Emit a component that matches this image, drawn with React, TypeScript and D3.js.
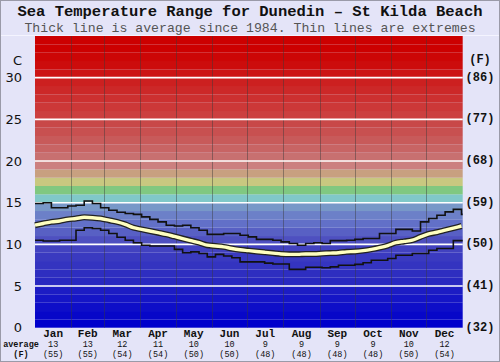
import React from "react";
import * as d3 from "d3";

const W = 500;
const H = 362;

const months = ["Jan", "Feb", "Mar", "Apr", "May", "Jun", "Jul", "Aug", "Sep", "Oct", "Nov", "Dec"];
const monthStartDays = [0, 31, 59, 90, 120, 151, 181, 212, 243, 273, 304, 334, 365];
const monthAvgC = [13, 13, 12, 11, 10, 10, 9, 9, 9, 9, 10, 12];
const monthAvgF = [55, 55, 54, 54, 50, 50, 48, 48, 48, 48, 50, 54];

const cTicks = [0, 5, 10, 15, 20, 25, 30];
const fTicks = [32, 41, 50, 59, 68, 77, 86];

// weekly samples, day = 7 * index
const maxTemp = [
  14.9, 15.0, 14.4, 14.4, 14.6, 14.7, 15.2, 14.9, 14.4, 14.1, 13.85, 13.7, 13.6, 13.3,
  13.0, 12.7, 12.3, 12.2, 12.3, 12.0, 11.7, 11.2, 11.2, 11.3, 11.3, 11.1, 10.9, 10.6,
  10.6, 10.5, 10.3, 10.1, 9.9, 10.1, 10.2, 10.1, 10.45, 10.45, 10.5, 10.6, 10.7, 10.7,
  11.3, 11.3, 11.8, 11.8, 11.6, 12.7, 13.1, 13.5, 13.9, 14.2, 13.6,
];
const minTemp = [
  10.5, 10.4, 10.4, 10.5, 10.5, 11.7, 12.0, 11.9, 11.7, 11.3, 10.85, 10.5, 10.2, 9.9,
  9.8, 9.8, 9.8, 9.4, 9.0, 9.1, 8.9, 8.5, 8.8, 8.6, 8.4, 7.9, 7.9, 7.9,
  7.75, 7.65, 7.65, 7.0, 7.0, 7.25, 7.25, 7.2, 7.3, 7.5, 7.5, 7.6, 7.8, 8.1,
  8.1, 8.3, 8.7, 8.7, 8.9, 8.9, 9.3, 9.5, 9.5, 10.45, 10.45,
];
const avgTemp = [
  12.3, 12.5, 12.7, 12.8, 13.0, 13.1, 13.25, 13.2, 13.1, 12.9, 12.7, 12.4, 12.0, 11.8,
  11.6, 11.4, 11.2, 10.95, 10.7, 10.45, 10.2, 9.9, 9.8, 9.7, 9.5, 9.35, 9.25, 9.15,
  9.05, 8.95, 8.85, 8.8, 8.8, 8.85, 8.85, 8.9, 8.95, 9.0, 9.1, 9.15, 9.25, 9.4,
  9.6, 9.85, 10.2, 10.35, 10.5, 10.9, 11.25, 11.45, 11.7, 11.95, 12.2,
];

// one colour per degree band (0-1, 1-2, ... 34-35)
const bandColors = [
  "#0000cc", "#0707c8", "#0e0ec8", "#1515c6", "#1c1cc4",
  "#2828c0", "#2e2ec0", "#3434c0", "#3a3ac0", "#4242c0",
  "#4e50c0", "#5860c4", "#6270c8", "#6c80c8", "#7898c8",
  "#80c8c8", "#80c880", "#c8c880", "#c8a080", "#cc8080",
  "#c87070", "#c86464", "#c85a5a", "#c85050", "#c84848",
  "#cc4040", "#cc3838", "#cc3030", "#cc2828", "#cc2020",
  "#cc1414", "#cc0c0c", "#cc0606", "#cc0000", "#cc0000",
];

const mono = "'Liberation Mono', 'DejaVu Sans Mono', monospace";
const sans = "'DejaVu Sans', Verdana, sans-serif";

export default function App() {
  const x = d3.scaleLinear().domain([0, 365]).range([35, 462.7]);
  const y = d3.scaleLinear().domain([0, 35]).range([327.7, 36]);

  const pts = (arr: number[]) => arr.map((v, i) => [Math.min(i * 7, 365), v] as [number, number]);

  const stepLine = d3
    .line<[number, number]>()
    .x((d) => x(d[0]))
    .y((d) => y(d[1]))
    .curve(d3.curveStepAfter);
  const smoothLine = d3
    .line<[number, number]>()
    .x((d) => x(d[0]))
    .y((d) => y(d[1]))
    .curve(d3.curveMonotoneX);

  const ext = (arr: number[]) => {
    const p = pts(arr);
    p.push([365, arr[arr.length - 1]]);
    return p;
  };

  return (
    <svg
      width={W}
      height={H}
      style={{ position: "absolute", left: 0, top: 0, display: "block" }}
    >
      <rect x={0} y={0} width={W} height={H} fill="#e4e4f8" />
      <rect x={0.5} y={0.5} width={W - 1} height={H - 1} fill="none" stroke="#9a9aa8" />
      <text
        x={W / 2}
        y={16}
        textAnchor="middle"
        fontFamily={mono}
        fontWeight="bold"
        fontSize={15.5}
        fill="#111"
      >
        Sea Temperature Range for Dunedin – St Kilda Beach
      </text>
      <text x={W / 2} y={31.5} textAnchor="middle" fontFamily={mono} fontSize={13.2} fill="#555">
        Thick line is average since 1984. Thin lines are extremes
      </text>
      <line x1={1} x2={W - 1} y1={35.5} y2={35.5} stroke="#f4f4ff" />

      {bandColors.map((c, i) => (
        <rect
          key={i}
          x={x(0)}
          width={x(365) - x(0)}
          y={y(i + 1)}
          height={y(i) - y(i + 1)}
          fill={c}
        />
      ))}

      {monthStartDays.slice(1, 12).map((d) => (
        <line
          key={d}
          x1={Math.round(x(d)) + 0.5}
          x2={Math.round(x(d)) + 0.5}
          y1={y(35)}
          y2={y(0)}
          stroke="#3a3a3a"
          strokeOpacity={0.45}
          strokeWidth={1}
        />
      ))}

      {cTicks.slice(1).map((t) => (
        <line
          key={t}
          x1={x(0)}
          x2={x(365)}
          y1={y(t)}
          y2={y(t)}
          stroke="#ffffff"
          strokeWidth={1.6}
        />
      ))}

      <path d={stepLine(ext(maxTemp)) || ""} fill="none" stroke="#111" strokeWidth={1.6} />
      <path d={stepLine(ext(minTemp)) || ""} fill="none" stroke="#111" strokeWidth={1.6} />
      <path d={smoothLine(pts(avgTemp)) || ""} fill="none" stroke="#222" strokeWidth={6} />
      <path d={smoothLine(pts(avgTemp)) || ""} fill="none" stroke="#ffffc0" strokeWidth={3.4} />

      <text x={22} y={60} textAnchor="end" dominantBaseline="central" fontFamily={sans} fontSize={13} fill="#111">
        C
      </text>
      {cTicks.map((t) => (
        <text
          key={t}
          x={22}
          y={y(t)}
          textAnchor="end"
          dominantBaseline="central"
          fontFamily={sans}
          fontSize={13}
          fill="#111"
        >
          {t}
        </text>
      ))}
      <text x={480} y={60} textAnchor="middle" dominantBaseline="central" fontFamily={mono} fontWeight="bold" fontSize={12} fill="#111">
        (F)
      </text>
      {fTicks.map((f, i) => (
        <text
          key={f}
          x={480}
          y={y(cTicks[i])}
          textAnchor="middle"
          dominantBaseline="central"
          fontFamily={mono}
          fontWeight="bold"
          fontSize={12}
          fill="#111"
        >
          ({f})
        </text>
      ))}

      {months.map((m, i) => {
        const cx = x((monthStartDays[i] + monthStartDays[i + 1]) / 2);
        return (
          <g key={m}>
            <text x={cx} y={336.5} textAnchor="middle" fontFamily={mono} fontWeight="bold" fontSize={11} fill="#111">
              {m}
            </text>
            <text x={cx} y={347} textAnchor="middle" fontFamily={mono} fontSize={8.5} fill="#111">
              {monthAvgC[i]}
            </text>
            <text x={cx} y={356.5} textAnchor="middle" fontFamily={mono} fontSize={8.5} fill="#111">
              ({monthAvgF[i]})
            </text>
          </g>
        );
      })}
      <text x={21} y={347} textAnchor="middle" fontFamily={mono} fontWeight="bold" fontSize={8.5} fill="#111">
        average
      </text>
      <text x={21} y={356.5} textAnchor="middle" fontFamily={mono} fontWeight="bold" fontSize={8.5} fill="#111">
        (F)
      </text>
    </svg>
  );
}
